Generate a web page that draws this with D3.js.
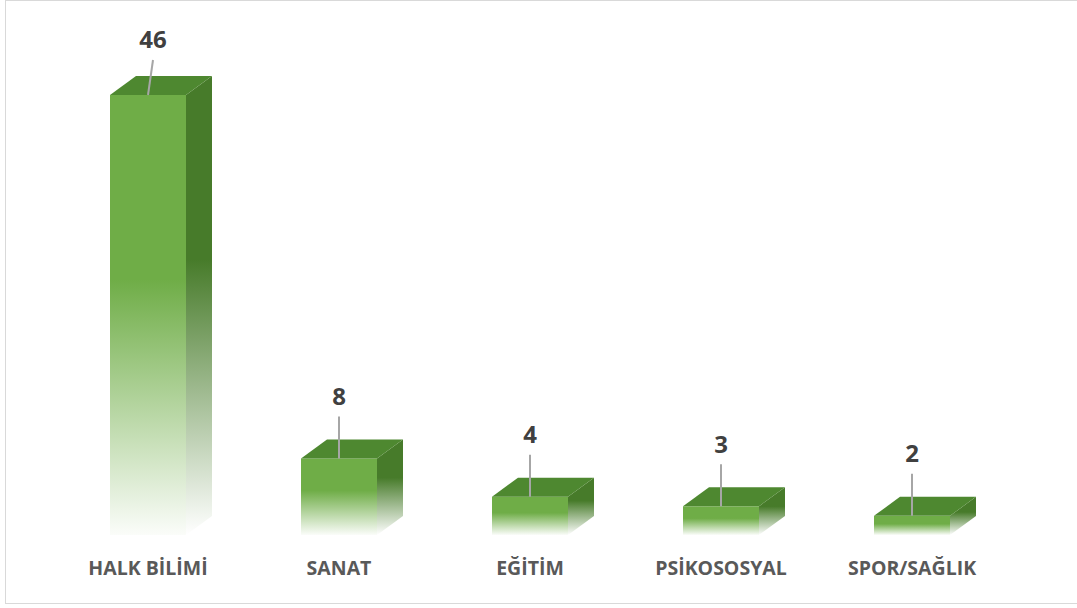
<!DOCTYPE html>
<html>
<head>
<meta charset="utf-8">
<script src="https://cdn.jsdelivr.net/npm/d3@7"></script>
<style>
  html, body { margin: 0; padding: 0; background: #ffffff; }
  svg { display: block; }
</style>
</head>
<body>
<svg id="chart" width="1077" height="608"></svg>
<script>
// ---- data ----
const categories = ["HALK BİLİMİ", "SANAT", "EĞİTİM", "PSİKOSOSYAL", "SPOR/SAĞLIK"];
const values = [46, 8, 4, 3, 2];

// ---- layout ----
const W = 1077, H = 608;
const baseY = 535, topY = 95;
const barW = 76, depthX = 26, depthY = -19;

const svg = d3.select("#chart");

// border
svg.append("rect")
  .attr("x", 5.5).attr("y", 0.5)
  .attr("width", 1090).attr("height", 603)
  .attr("fill", "#ffffff")
  .attr("stroke", "#d9d9d9").attr("stroke-width", 1);

const x = d3.scalePoint().domain(categories).range([148, 912]);
const y = d3.scaleLinear().domain([0, d3.max(values)]).range([baseY, topY]);

// gradients
const defs = svg.append("defs");
function grad(id, color, start, endOp) {
  const g = defs.append("linearGradient").attr("id", id)
    .attr("x1", 0).attr("y1", 0).attr("x2", 0).attr("y2", 1);
  g.append("stop").attr("offset", "0").attr("stop-color", color).attr("stop-opacity", 1);
  g.append("stop").attr("offset", start).attr("stop-color", color).attr("stop-opacity", 1);
  g.append("stop").attr("offset", "1").attr("stop-color", color).attr("stop-opacity", endOp);
}
grad("gFront", "#6fad47", "0.42", 0.03);
grad("gSide", "#477b2a", "0.4", 0.0);

const data = categories.map((c, i) => ({ c, v: values[i] }));

const bars = svg.append("g").selectAll("g").data(data).join("g");

// side face
bars.append("path")
  .attr("fill", "url(#gSide)")
  .attr("d", d => {
    const x1 = x(d.c) + barW / 2, t = y(d.v), b = y(0);
    return `M${x1},${t} L${x1 + depthX},${t + depthY} L${x1 + depthX},${b + depthY} L${x1},${b} Z`;
  });

// front face
bars.append("rect")
  .attr("x", d => x(d.c) - barW / 2)
  .attr("y", d => y(d.v))
  .attr("width", barW)
  .attr("height", d => y(0) - y(d.v))
  .attr("fill", "url(#gFront)");

// top face
bars.append("path")
  .attr("fill", "#4e8830")
  .attr("d", d => {
    const x0 = x(d.c) - barW / 2, x1 = x(d.c) + barW / 2, t = y(d.v);
    return `M${x0},${t} L${x0 + depthX},${t + depthY} L${x1 + depthX},${t + depthY} L${x1},${t} Z`;
  });

// value labels with leader lines
const labelY = d => Math.max(y(d.v) - 62, 40);
const labelX = d => x(d.c) + (y(d.v) - 62 < 40 ? 5 : 0);

bars.append("line")
  .attr("x1", d => labelX(d)).attr("y1", d => labelY(d) + 20)
  .attr("x2", d => x(d.c)).attr("y2", d => y(d.v))
  .attr("stroke", "#a6a6a6").attr("stroke-width", 2);

bars.append("text")
  .attr("x", d => labelX(d))
  .attr("y", d => labelY(d))
  .attr("dy", "0.35em")
  .attr("text-anchor", "middle")
  .attr("font-family", "'Open Sans', sans-serif")
  .attr("font-weight", 700)
  .attr("font-size", 24)
  .attr("fill", "#404040")
  .text(d => d.v);

// category labels
svg.append("g").selectAll("text").data(categories).join("text")
  .attr("x", d => x(d))
  .attr("y", 568)
  .attr("dy", "0.35em")
  .attr("text-anchor", "middle")
  .attr("font-family", "'Open Sans', sans-serif")
  .attr("font-weight", 700)
  .attr("font-size", 19.5)
  .attr("fill", "#595959")
  .text(d => d);
</script>
</body>
</html>
